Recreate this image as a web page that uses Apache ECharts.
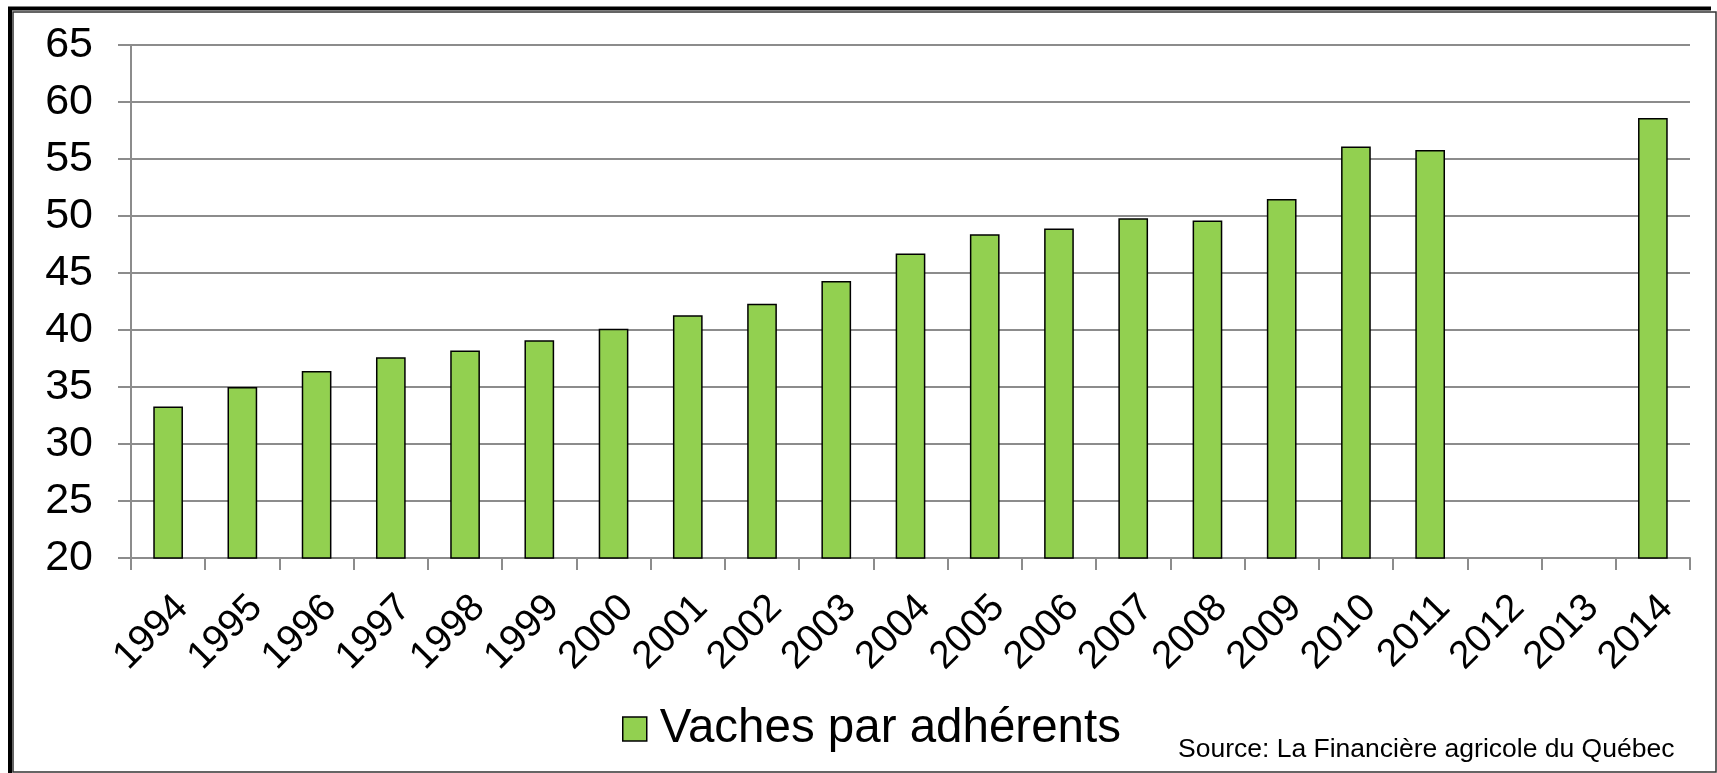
<!DOCTYPE html>
<html>
<head>
<meta charset="utf-8">
<script src="https://cdn.jsdelivr.net/npm/echarts@6/dist/echarts.min.js"></script>
<style>
html,body{margin:0;padding:0;background:#fff;}
#chart{width:1717px;height:773px;}
</style>
</head>
<body>
<div id="chart"></div>
<script>
const categories = ['1994','1995','1996','1997','1998','1999','2000','2001','2002','2003','2004','2005','2006','2007','2008','2009','2010','2011','2012','2013','2014'];
const vaches = [33.3,35.0,36.4,37.6,38.2,39.1,40.1,41.3,42.3,44.3,46.7,48.4,48.9,49.8,49.6,51.5,56.1,55.8,null,null,58.6];
const seriesName = 'Vaches par adhérents';
const sourceText = 'Source: La Financière agricole du Québec';
const yMin = 20, yMax = 65, yStep = 5;

const chart = echarts.init(document.getElementById('chart'), null, {renderer:'canvas'});
const font = 'Liberation Sans, Arial, sans-serif';
chart.setOption({
  animation:false,
  backgroundColor:'#fff',
  grid:{left:131, right:27, top:45, bottom:215, containLabel:false},
  legend:{
    data:[seriesName], left:617, top:700, itemWidth:24, itemHeight:24,
    icon:'rect',
    itemStyle:{borderColor:'#000', borderWidth:1.5},
    textStyle:{fontFamily:font, fontSize:47.5, color:'#000', lineHeight:48, padding:[0,0,0,8]}
  },
  xAxis:{
    type:'category', data:categories,
    axisLine:{lineStyle:{color:'#8c8c8c', width:2}},
    axisTick:{show:true, length:12, alignWithLabel:false, lineStyle:{color:'#8c8c8c', width:2}},
    axisLabel:{rotate:45, fontFamily:font, fontSize:39, color:'#000', margin:30, interval:0, align:'right', verticalAlign:'top'}
  },
  yAxis:{
    type:'value', min:yMin, max:yMax, interval:yStep,
    axisLine:{show:true, lineStyle:{color:'#8c8c8c', width:2}},
    axisTick:{show:true, length:13, lineStyle:{color:'#8c8c8c', width:2}},
    splitLine:{show:true, lineStyle:{color:'#8c8c8c', width:2}},
    axisLabel:{fontFamily:font, fontSize:43, color:'#000', margin:38}
  },
  series:[{
    name:seriesName, type:'bar', data:vaches, barCategoryGap:'60%',
    itemStyle:{color:'#92D050', borderColor:'#000', borderWidth:1.5}
  }],
  graphic:[
    {type:'text', left:1178, top:736, style:{text:sourceText, font:'26.5px Liberation Sans, Arial, sans-serif', fill:'#000'}},
    {type:'rect', shape:{x:13, y:12, width:1703, height:760}, style:{fill:null, stroke:'#333', lineWidth:1.5}, silent:true},
    {type:'polyline', shape:{points:[[10,773],[10,8.5],[1711,8.5]]}, style:{fill:null, stroke:'#000', lineWidth:4}, silent:true}
  ]
});
</script>
</body>
</html>
